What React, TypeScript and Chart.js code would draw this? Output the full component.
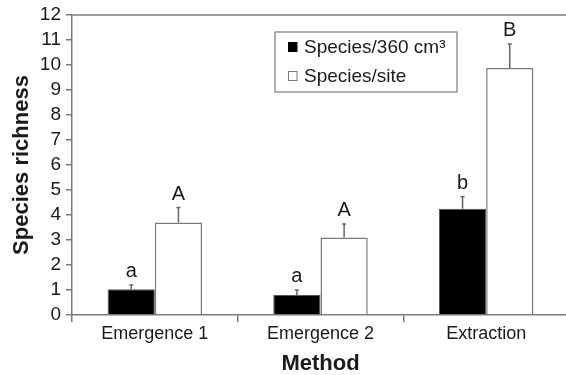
import React, { useEffect, useRef } from "react";
import { Chart, registerables } from "chart.js";

Chart.register(...registerables);

const categories = ["Emergence 1", "Emergence 2", "Extraction"];
const perVolume = [1.03, 0.8, 4.25];
const perVolumeErr = [0.17, 0.2, 0.48];
const perSite = [3.7, 3.1, 9.88];
const perSiteErr = [0.6, 0.54, 0.96];
const lettersVolume = ["a", "a", "b"];
const lettersSite = ["A", "A", "B"];
const yTicks = [0, 1, 2, 3, 4, 5, 6, 7, 8, 9, 10, 11, 12];
const seriesNames = ["Species/360 cm\u00B3", "Species/site"];

const FONT = "'Liberation Sans', Arial, sans-serif";
const GRAY = "#7a7a7a";
const TEXT = "#1a1a1a";

const overlayPlugin = {
  id: "overlay",
  afterDatasetsDraw(chart: any) {
    const ctx = chart.ctx;
    const y = chart.scales.y;
    const area = chart.chartArea;
    const errs = [perVolumeErr, perSiteErr];
    const letters = [lettersVolume, lettersSite];
    ctx.save();
    // top frame line
    ctx.strokeStyle = GRAY;
    ctx.lineWidth = 1.5;
    ctx.beginPath();
    ctx.moveTo(area.left, area.top);
    ctx.lineTo(area.right, area.top);
    ctx.stroke();
    chart.data.datasets.forEach((ds: any, di: number) => {
      const meta = chart.getDatasetMeta(di);
      meta.data.forEach((bar: any, i: number) => {
        const v = ds.data[i];
        const top = y.getPixelForValue(v + errs[di][i]);
        const base = y.getPixelForValue(v);
        ctx.strokeStyle = "#666";
        ctx.lineWidth = 1.5;
        ctx.beginPath();
        ctx.moveTo(bar.x, base);
        ctx.lineTo(bar.x, top);
        ctx.moveTo(bar.x - 2, top);
        ctx.lineTo(bar.x + 2, top);
        ctx.stroke();
        ctx.fillStyle = TEXT;
        ctx.font = `20px ${FONT}`;
        ctx.textAlign = "center";
        ctx.textBaseline = "alphabetic";
        ctx.fillText(letters[di][i], bar.x, top - 8);
      });
    });
    // legend
    const lx = 275, ly = 32, lw = 182, lh = 60;
    ctx.fillStyle = "#fff";
    ctx.fillRect(lx, ly, lw, lh);
    ctx.strokeStyle = GRAY;
    ctx.lineWidth = 1.2;
    ctx.strokeRect(lx, ly, lw, lh);
    const rows = [47, 76];
    rows.forEach((cy, k) => {
      ctx.fillStyle = k === 0 ? "#000" : "#fff";
      ctx.fillRect(288, cy - 4.5, 9, 9);
      ctx.strokeStyle = k === 0 ? "#000" : GRAY;
      ctx.lineWidth = 1;
      ctx.strokeRect(288.5, cy - 4.5, 8.5, 9);
      ctx.fillStyle = TEXT;
      ctx.font = `19px ${FONT}`;
      ctx.textAlign = "left";
      ctx.textBaseline = "middle";
      ctx.fillText(seriesNames[k], 304, cy + 1);
    });
    ctx.restore();
  },
};

export default function App() {
  const ref = useRef<HTMLCanvasElement>(null);
  useEffect(() => {
    document.body.style.margin = "0";
    document.body.style.overflow = "hidden";
    const chart = new Chart(ref.current!, {
      type: "bar",
      data: {
        labels: categories,
        datasets: [
          {
            label: seriesNames[0],
            data: perVolume,
            backgroundColor: "#000",
            borderColor: "#555",
            borderWidth: 1,
            categoryPercentage: 0.57,
            barPercentage: 1,
          },
          {
            label: seriesNames[1],
            data: perSite,
            backgroundColor: "#fff",
            borderColor: GRAY,
            borderWidth: 1.5,
            categoryPercentage: 0.57,
            barPercentage: 1,
          },
        ],
      },
      options: {
        animation: false,
        responsive: false,
        devicePixelRatio: 1,
        layout: { padding: { left: 0, right: 6, top: 15, bottom: 0 } },
        plugins: { legend: { display: false }, tooltip: { enabled: false } },
        scales: {
          x: {
            afterFit: (s: any) => {
              s.height = 60;
            },
            grid: {
              offset: true,
              drawOnChartArea: false,
              tickLength: 7,
              color: GRAY,
              lineWidth: 1.5,
            },
            border: { color: GRAY, width: 1.5 },
            ticks: { color: TEXT, font: { family: FONT, size: 18 }, padding: 1 },
            title: {
              display: true,
              text: "Method",
              color: TEXT,
              font: { family: FONT, size: 22, weight: "bold", lineHeight: 1 },
              padding: { top: 0, bottom: 0 },
            },
          },
          y: {
            min: 0,
            max: 12,
            afterFit: (s: any) => {
              s.width = 72;
            },
            afterBuildTicks: (s: any) => {
              s.ticks = yTicks.map((v) => ({ value: v }));
            },
            grid: {
              drawOnChartArea: false,
              tickLength: 6,
              color: GRAY,
              lineWidth: 1.5,
            },
            border: { color: GRAY, width: 1.5 },
            ticks: {
              color: TEXT,
              font: { family: FONT, size: 19, lineHeight: 1 },
              padding: 5,
              autoSkip: false,
            },
            title: {
              display: true,
              text: "Species richness",
              color: TEXT,
              font: { family: FONT, size: 22, weight: "bold", lineHeight: 1 },
              padding: { top: 11, bottom: 0 },
            },
          },
        },
      },
      plugins: [overlayPlugin],
    });
    return () => chart.destroy();
  }, []);
  return (
    <div style={{ position: "absolute", left: 0, top: 0, width: 575, height: 375, background: "#fff" }}>
      <canvas ref={ref} width={575} height={375} />
    </div>
  );
}
